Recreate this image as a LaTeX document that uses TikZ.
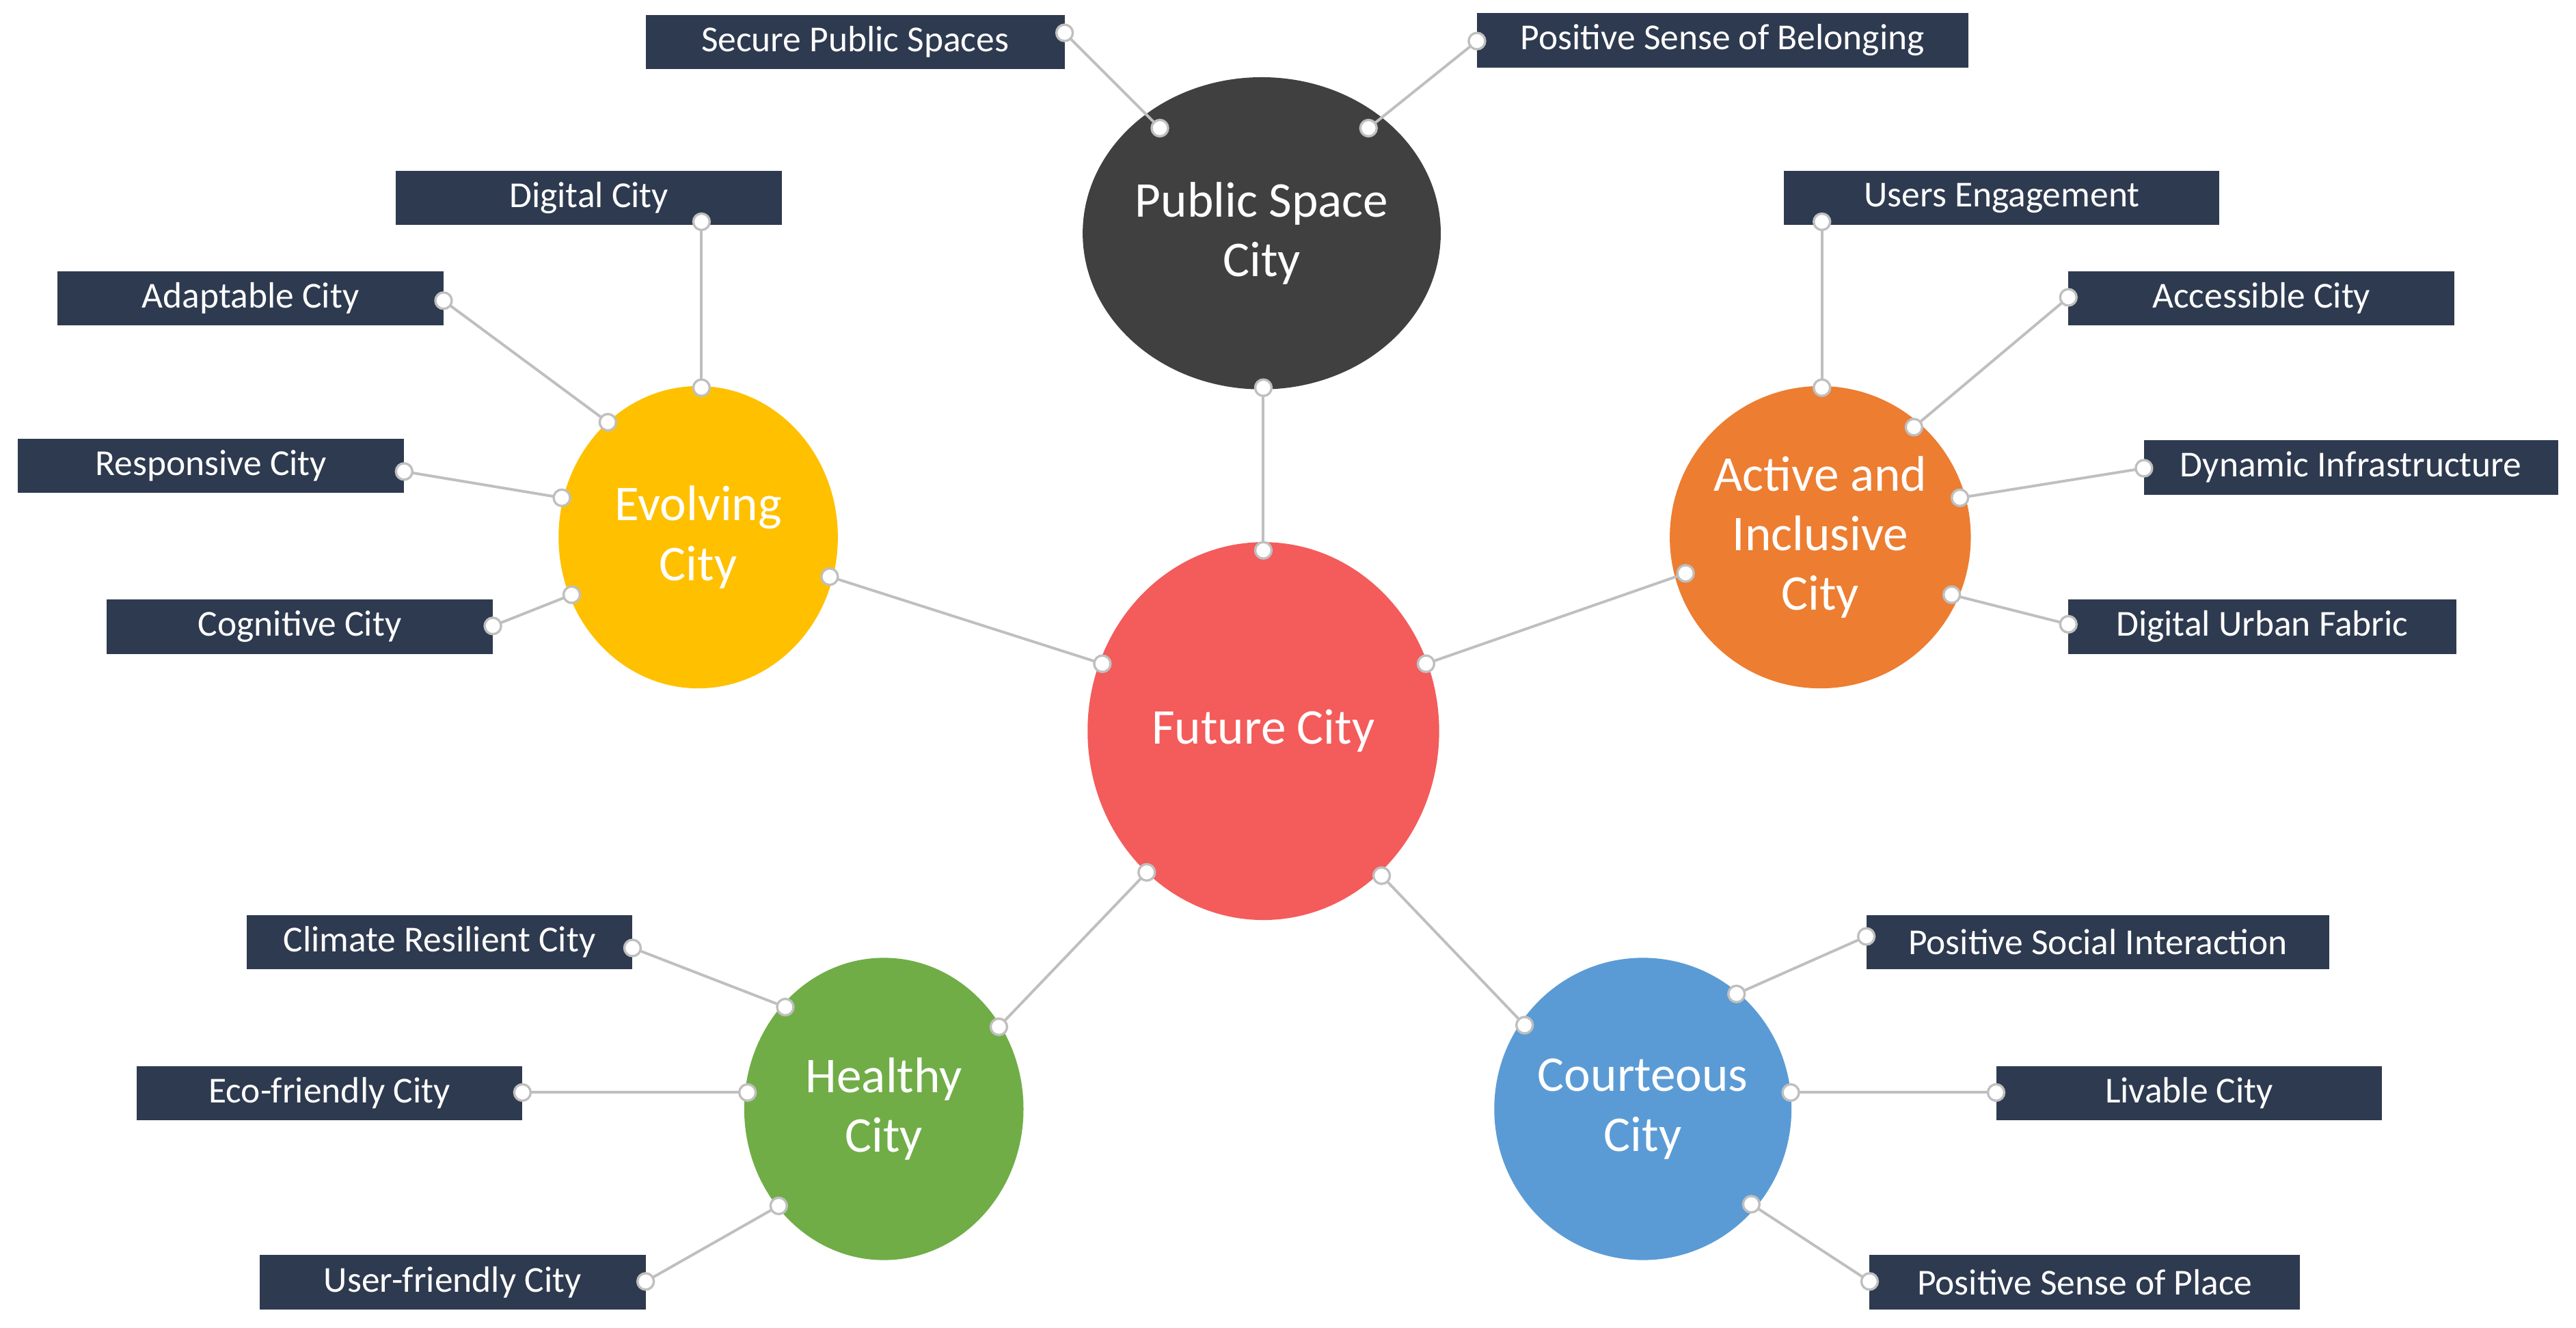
\documentclass[tikz,border=0pt]{standalone}
\usepackage{fontspec}
\setmainfont{Carlito}
\usetikzlibrary{shapes.geometric}
\definecolor{navy}{HTML}{2E3A4F}
\definecolor{cred}{HTML}{F45B5B}
\definecolor{cdark}{HTML}{404040}
\definecolor{cyel}{HTML}{FFC000}
\definecolor{corg}{HTML}{ED7D31}
\definecolor{cgrn}{HTML}{70AD47}
\definecolor{cblu}{HTML}{5B9BD5}
\definecolor{lgray}{HTML}{BFBFBF}
\begin{document}
\begin{tikzpicture}[x=0.3mm,y=-0.3mm,
  hub/.style={ellipse,draw=none,text=white,align=center,inner sep=0pt,font=\fontsize{26}{31}\selectfont},
  lab/.style={rectangle,fill=navy,text=white,inner sep=0pt,minimum height=9.9mm,font=\fontsize{19}{22}\selectfont},
  conn/.style={draw=lgray,line width=1.4pt},
  dot/.style={circle,fill=white,draw=lgray,line width=1.2pt,inner sep=0pt,minimum size=3mm}]
\useasboundingbox (0,0) rectangle (1568,808);
% hubs
\node[hub,fill=cred,minimum width=64.2mm,minimum height=69mm] (fc) at (769,445) {Future City};
\node[hub,fill=cdark,minimum width=52.8mm,minimum height=57mm] (ps) at (768,142) {Public Space\\City};
\node[hub,fill=cyel,minimum width=51mm,minimum height=55.2mm] (ev) at (425,327) {Evolving\\City};
\node[hub,fill=corg,minimum width=51mm,minimum height=55.2mm] (ai) at (1108,327) {Active and\\Inclusive\\City};
\node[hub,fill=cgrn,minimum width=51mm,minimum height=55.2mm] (he) at (538,675) {Healthy\\City};
\node[hub,fill=cblu,minimum width=51mm,minimum height=55.2mm] (co) at (1000,675) {Courteous\\City};
% labels
\node[lab,minimum width=76.5mm] (l1) at (520.5,25.5) {Secure Public Spaces};
\node[lab,minimum width=89.7mm] (l2) at (1048.5,24.5) {Positive Sense of Belonging};
\node[lab,minimum width=70.5mm] (l3) at (358.5,120.5) {Digital City};
\node[lab,minimum width=70.5mm] (l4) at (152.5,181.5) {Adaptable City};
\node[lab,minimum width=70.5mm] (l5) at (128.5,283.5) {Responsive City};
\node[lab,minimum width=70.5mm] (l6) at (182.5,381.5) {Cognitive City};
\node[lab,minimum width=79.5mm] (l7) at (1218.5,120.5) {Users Engagement};
\node[lab,minimum width=70.5mm] (l8) at (1376.5,181.5) {Accessible City};
\node[lab,minimum width=75.6mm] (l9) at (1431,284.5) {Dynamic Infrastructure};
\node[lab,minimum width=70.8mm] (l10) at (1377,381.5) {Digital Urban Fabric};
\node[lab,minimum width=70.5mm] (l11) at (267.5,573.5) {Climate Resilient City};
\node[lab,minimum width=70.5mm] (l12) at (200.5,665.5) {Eco-friendly City};
\node[lab,minimum width=70.5mm] (l13) at (275.5,780.5) {User-friendly City};
\node[lab,minimum width=84.6mm] (l14) at (1277,573.5) {Positive Social Interaction};
\node[lab,minimum width=70.5mm] (l15) at (1332.5,665.5) {Livable City};
\node[lab,minimum width=78.6mm] (l16) at (1269,780.5) {Positive Sense of Place};
% connector end points
\foreach \n/\x/\y in {a1/769/335,a2/769/236,b1/671/404,b2/505/351,c1/868/404,c2/1026/349,
  d1/698/531,d2/608/625,e1/841/533,e2/928/624,
  f1/648/20,f2/706/78,g1/899/25,g2/833/78,h1/427/135,h2/427/236,i1/270/183,i2/370/257,
  j1/246/287,j2/342/303,k1/300/381,k2/348/362,m1/1109/135,m2/1109/236,n1/1259/181,n2/1165/260,
  o1/1305/285,o2/1193/303,p1/1259/380,p2/1188/362,q1/385/577,q2/478/613,r1/318/665,r2/455/665,
  s1/393/780,s2/474/734,t1/1136/570,t2/1057/605,u1/1215/665,u2/1090/665,v1/1138/780,v2/1066/733}
  {\coordinate (\n) at (\x,\y);}
\foreach \p in {a,b,c,d,e,f,g,h,i,j,k,m,n,o,p,q,r,s,t,u,v}{
  \draw[conn] (\p1) -- (\p2);
  \node[dot] at (\p1) {};
  \node[dot] at (\p2) {};
}
\end{tikzpicture}
\end{document}
